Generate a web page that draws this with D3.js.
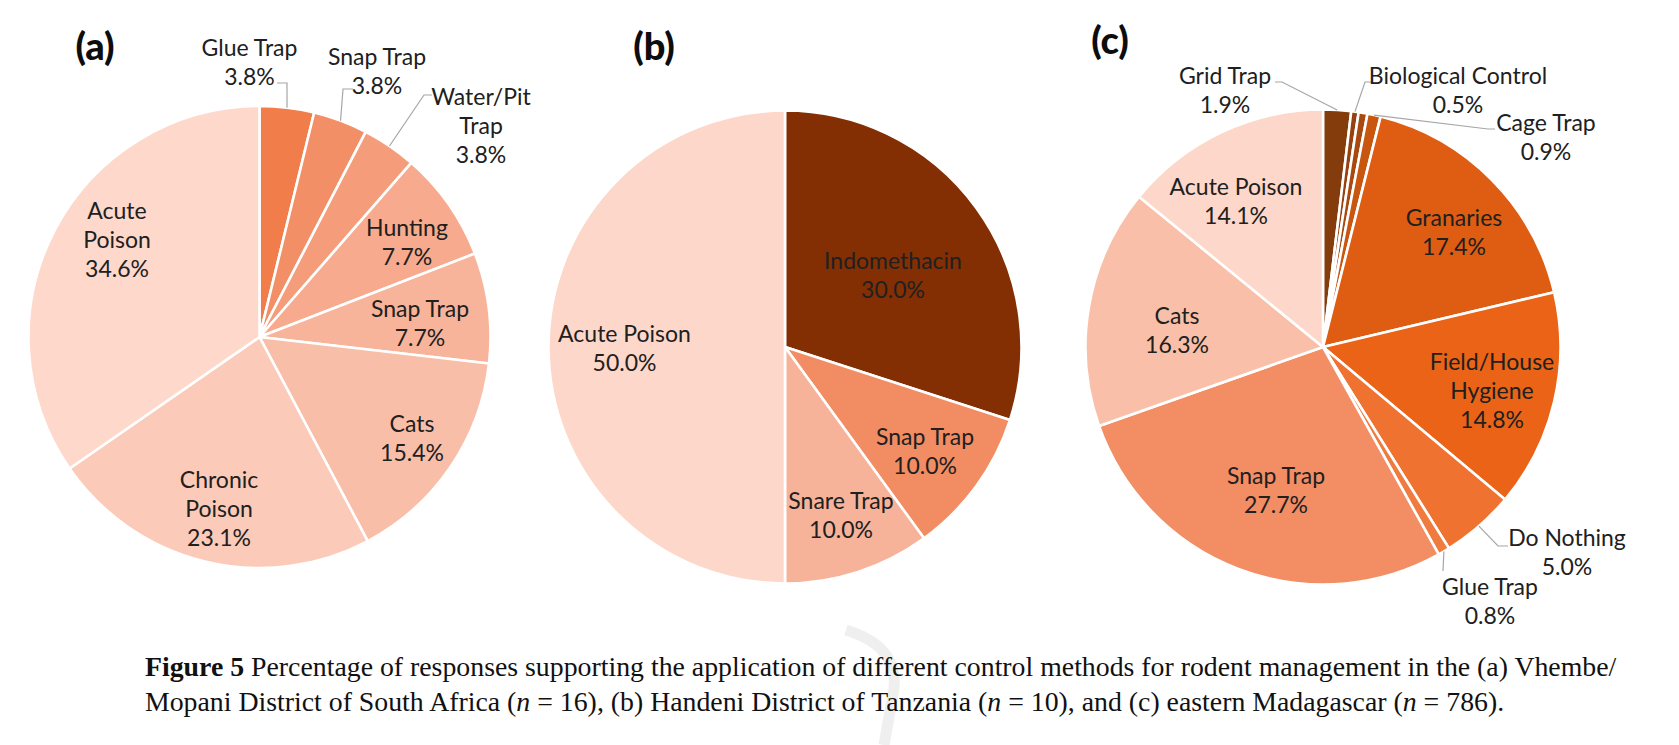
<!DOCTYPE html>
<html><head><meta charset="utf-8">
<script src="https://cdn.jsdelivr.net/npm/d3@7/dist/d3.min.js"></script>
<style>body{margin:0;background:#fff;} svg{display:block}</style>
</head><body>
<svg id="chart" width="1679" height="745"></svg>
<script>
// ---------------- data ----------------
const catsA = ["Glue Trap","Snap Trap","Water/Pit Trap","Hunting","Snap Trap","Cats","Chronic Poison","Acute Poison"];
const valsA = [3.8,3.8,3.8,7.7,7.7,15.4,23.1,34.6];
const colorsA = ["#F07D4A","#F38F66","#F59D7B","#F7AA8D","#F8B49B","#F9BEA8","#FBCAB8","#FDD8CB"];

const catsB = ["Indomethacin","Snap Trap","Snare Trap","Acute Poison"];
const valsB = [30.0,10.0,10.0,50.0];
const colorsB = ["#832F03","#F28C62","#F7B29A","#FDD7CA"];

const catsC = ["Grid Trap","Biological Control","","Cage Trap","Granaries","Field/House Hygiene","Do Nothing","Glue Trap","Snap Trap","Cats","Acute Poison"];
const valsC = [1.9,0.5,0.6,0.9,17.4,14.8,5.0,0.8,27.7,16.3,14.1];
const colorsC = ["#843C0C","#97410E","#A9480F","#C9560F","#DF5C13","#EA6316","#EF7230","#F07B3E","#F28D64","#F9BFA8","#FDD7C9"];

const panelLabels = ["(a)","(b)","(c)"];
const caption1 = ["Figure 5", " Percentage of responses supporting the application of different control methods for rodent management in the (a) Vhembe/"];
const caption2 = ["Mopani District of South Africa (", "n", " = 16), (b) Handeni District of Tanzania (", "n", " = 10), and (c) eastern Madagascar (", "n", " = 786)."];

// ---------------- layout (label placement, not data) ----------------
const layoutA = [
  {dx:-10, dy:-275, wrap:false, lead:[17.5,-254,10]},
  {dx:117.5, dy:-265.5, wrap:false, lead:[93.5,-248,-10]},
  {dx:221.5, dy:-211.5, wrap:true, lead:[172.5,-242,-8]},
  {dx:147.5, dy:-94.5, wrap:false},
  {dx:160.5, dy:-14, wrap:false},
  {dx:152.5, dy:101.5, wrap:false},
  {dx:-40.5, dy:172, wrap:true},
  {dx:-142.5, dy:-97.7, wrap:true}
];
const layoutB = [
  {dx:108, dy:-71.5, wrap:false},
  {dx:140, dy:104, wrap:false},
  {dx:56, dy:168.5, wrap:false},
  {dx:-160.5, dy:1.5, wrap:false}
];
const layoutC = [
  {dx:-98, dy:-256.5, wrap:false, lead:[-48,-265,7]},
  {dx:135, dy:-256.5, wrap:false, lead:[50,-265,-8]},
  null,
  {dx:223, dy:-209.5, wrap:false, lead:[172,-218,-7]},
  {dx:131, dy:-114.5, wrap:false},
  {dx:169, dy:44, wrap:true},
  {dx:244, dy:205.5, wrap:false, lead:[185,199,-10]},
  {dx:167, dy:254, wrap:false, lead:[120,224,0]},
  {dx:-47, dy:143.5, wrap:false},
  {dx:-146, dy:-17, wrap:false},
  {dx:-87, dy:-145.5, wrap:false}
];

const svg = d3.select("#chart");
const FONT = "Lato, 'Open Sans', sans-serif";
const FS = 23, LH = 29;
const textColor = "#202020";

// faint watermark stroke behind everything
svg.append("path")
  .attr("d","M846,630 Q905,648 892,700 L884,745")
  .attr("fill","none").attr("stroke","#efefef").attr("stroke-width",11);

function drawPie(cats, vals, colors, layout, cx, cy, r) {
  const data = cats.map((c,i)=>({name:c, v:vals[i], color:colors[i], lay:layout[i]}));
  const pie = d3.pie().sort(null).value(d=>d.v);
  const arc = d3.arc().innerRadius(0).outerRadius(r);
  const arcs = pie(data);
  const g = svg.append("g").attr("transform", `translate(${cx},${cy})`);
  g.selectAll("path.slice").data(arcs).join("path")
    .attr("class","slice")
    .attr("d", arc)
    .attr("fill", d=>d.data.color)
    .attr("stroke","#fff")
    .attr("stroke-width",2.6)
    .attr("stroke-linejoin","round");

  arcs.forEach(a=>{
    const L = a.data.lay;
    if (!L || !L.lead) return;
    const mid = (a.startAngle + a.endAngle)/2;
    const px = r*Math.sin(mid), py = -r*Math.cos(mid);
    const [ax, ay, stub] = L.lead;
    g.append("path")
      .attr("d", d3.line()([[ax,ay],[ax+stub,ay],[px,py]]))
      .attr("fill","none").attr("stroke","#a6a6a6").attr("stroke-width",1.2);
  });

  arcs.forEach(a=>{
    const L = a.data.lay;
    if (!L || !a.data.name) return;
    const nameLines = L.wrap ? a.data.name.split(" ") : [a.data.name];
    const lines = nameLines.concat([d3.format(".1f")(a.data.v) + "%"]);
    const n = lines.length;
    const t = g.append("text")
      .attr("font-family", FONT).attr("font-size", FS)
      .attr("fill", textColor).attr("text-anchor","middle");
    lines.forEach((s,i)=>{
      t.append("tspan").attr("x", L.dx)
        .attr("y", L.dy + (i-(n-1)/2)*LH + FS*0.36)
        .text(s);
    });
  });
}

drawPie(catsA, valsA, colorsA, layoutA, 259.5, 337, 231);
drawPie(catsB, valsB, colorsB, layoutB, 785, 347, 236.5);
drawPie(catsC, valsC, colorsC, layoutC, 1323, 347, 237.5);

const panelPos = [[95,47],[654,47],[1110,41]];
panelLabels.forEach((p,i)=>{
  svg.append("text").attr("x",panelPos[i][0]).attr("y",panelPos[i][1]+13)
    .attr("font-family",FONT).attr("font-weight",900).attr("font-size",38)
    .attr("text-anchor","middle").attr("fill","#0d0d0d").text(p);
});

const cap = svg.append("g").attr("font-family","'Liberation Serif','Times New Roman',serif")
  .attr("font-size",27.8).attr("fill","#111");
const t1 = cap.append("text").attr("x",145).attr("y",676);
t1.append("tspan").attr("font-weight",700).text(caption1[0]);
t1.append("tspan").text(caption1[1]);
const t2 = cap.append("text").attr("x",145).attr("y",711);
caption2.forEach(s=>{
  const ts = t2.append("tspan").text(s);
  if (s === "n") ts.attr("font-style","italic");
});
</script>
</body></html>
